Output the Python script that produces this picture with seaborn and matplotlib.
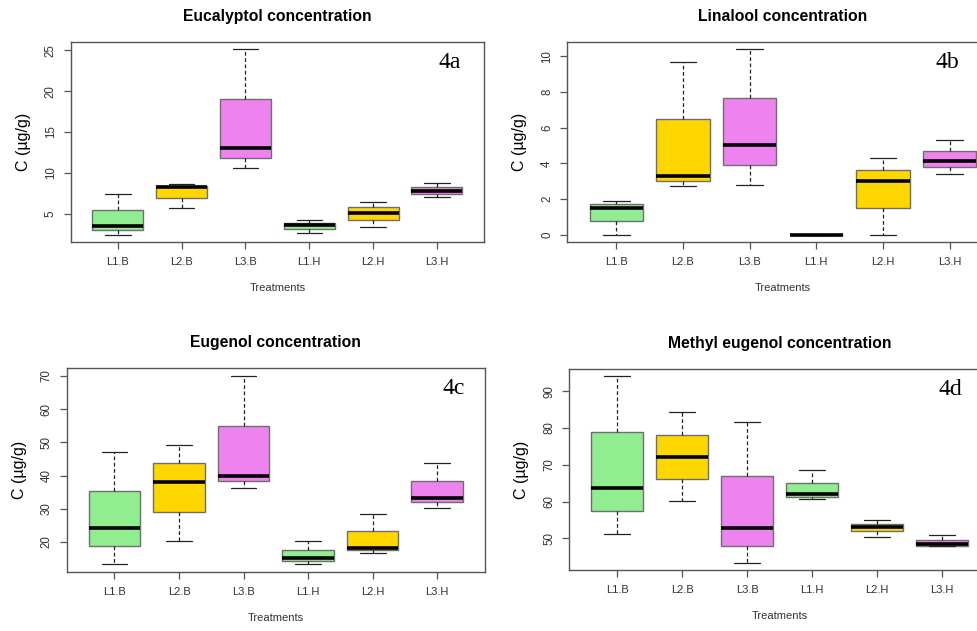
import numpy as np
import pandas as pd
import seaborn as sns
import matplotlib
matplotlib.use("Agg")
import matplotlib.pyplot as plt

sns.set_style("white")
plt.rcParams["font.family"] = ["Liberation Sans", "DejaVu Sans"]
plt.rcParams["text.color"] = "black"
plt.rcParams["axes.labelcolor"] = "black"

treatments = ["L1.B", "L2.B", "L3.B", "L1.H", "L2.H", "L3.H"]
colors = ["#90EE90", "#FFD700", "#EE82EE", "#90EE90", "#FFD700", "#EE82EE"]

# five-number summaries per treatment: [low whisker, Q1, median, Q3, high whisker]
eucalyptol = [[2.48, 3.01, 3.50, 5.49, 7.43],
              [5.73, 6.99, 8.33, 8.45, 8.65],
              [10.60, 11.86, 13.08, 19.08, 25.09],
              [2.69, 3.21, 3.62, 3.86, 4.23],
              [3.42, 4.31, 5.16, 5.81, 6.50],
              [7.11, 7.48, 7.76, 8.25, 8.77]]
linalool = [[0.0, 0.76, 1.49, 1.70, 1.88],
            [2.71, 3.02, 3.30, 6.51, 9.68],
            [2.78, 3.90, 5.04, 7.69, 10.39],
            [0.0, 0.0, 0.0, 0.0, 0.0],
            [0.0, 1.49, 3.02, 3.64, 4.31],
            [3.41, 3.77, 4.12, 4.70, 5.30]]
eugenol = [[13.26, 18.79, 24.12, 35.49, 47.16],
           [20.30, 29.05, 38.11, 43.64, 49.28],
           [36.40, 38.31, 40.02, 55.01, 70.10],
           [13.36, 14.37, 15.17, 17.69, 20.30],
           [16.68, 17.69, 18.09, 23.32, 28.45],
           [30.36, 31.97, 33.38, 38.51, 43.84]]
methyl_eugenol = [[51.09, 57.53, 63.79, 78.84, 93.99],
                  [60.16, 66.05, 72.04, 78.21, 84.47],
                  [43.47, 48.00, 52.72, 67.05, 81.56],
                  [60.61, 61.25, 61.97, 65.15, 68.59],
                  [50.45, 52.00, 53.08, 53.99, 54.99],
                  [47.90, 48.00, 48.37, 49.64, 51.00]]

panels = [
    ("Eucalyptol concentration", "4a", eucalyptol, [5, 10, 15, 20, 25],
     [0.0724, 0.6165, 0.4230, 0.3169], 0.945),
    ("Linalool concentration", "4b", linalool, [0, 2, 4, 6, 8, 10],
     [0.5803, 0.6165, 0.4422, 0.3169], 0.907),
    ("Eugenol concentration", "4c", eugenol, [20, 30, 40, 50, 60, 70],
     [0.0683, 0.0935, 0.4281, 0.3233], 0.953),
    ("Methyl eugenol concentration", "4d", methyl_eugenol, [50, 60, 70, 80, 90],
     [0.5824, 0.0967, 0.4309, 0.3185], 0.935),
]

fig = plt.figure(figsize=(9.77, 6.31), dpi=100)
edge = "#555555"

for title, tag, stats, yticks, rect, tag_x in panels:
    ax = fig.add_axes(rect)
    rows = []
    for t, five in zip(treatments, stats):
        for v in five:
            rows.append({"Treatments": t, "value": v})
    df = pd.DataFrame(rows)
    sns.boxplot(data=df, x="Treatments", y="value", hue="Treatments",
                order=treatments, hue_order=treatments, palette=colors,
                saturation=1, width=0.8, whis=(0, 100), showfliers=False,
                linecolor="#6e6e6e", linewidth=1, legend=False,
                medianprops={"color": "black", "linewidth": 2.6},
                whiskerprops={"color": "#222222", "linestyle": (0, (3, 2)), "linewidth": 0.9},
                capprops={"color": "#222222", "linewidth": 0.9},
                ax=ax)
    lo = min(min(s) for s in stats)
    hi = max(max(s) for s in stats)
    pad = 0.04 * (hi - lo)
    ax.set_ylim(lo - pad, hi + pad)
    ax.set_xlim(-0.74, 5.74)
    ax.set_yticks(yticks)
    ax.set_yticklabels([str(y) for y in yticks], rotation=90, va="center",
                       fontsize=8.3, color="#333333")
    ax.set_xticks(range(len(treatments)))
    ax.set_xticklabels(treatments, fontsize=8, color="#333333")
    ax.tick_params(axis="both", direction="out", length=5, width=0.9,
                   color=edge, left=True, bottom=True)
    ax.tick_params(axis="x", pad=6)
    ax.tick_params(axis="y", pad=5)
    for s in ax.spines.values():
        s.set_color(edge)
        s.set_linewidth(1)
    ax.set_title(title, fontsize=11.3, fontweight="bold", pad=15)
    ax.set_xlabel("Treatments", fontsize=8, color="#333333", labelpad=11)
    ax.set_ylabel("C (µg/g)", fontsize=11.5, labelpad=10)
    ax.text(tag_x, 0.90, tag, transform=ax.transAxes, ha="right", va="center",
            fontsize=17, family="Liberation Serif")

fig.savefig("out.png", dpi=100)
